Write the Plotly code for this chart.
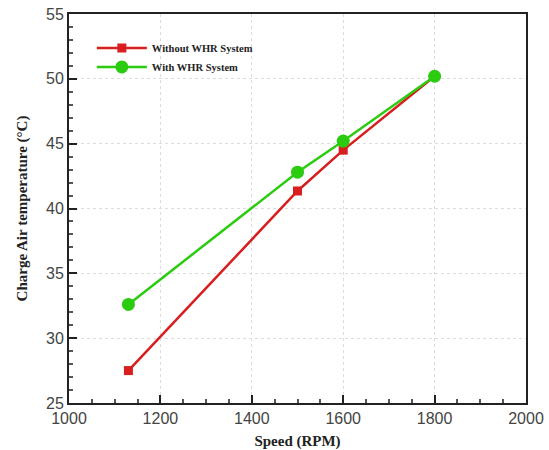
import plotly.graph_objects as go

speed = [1130, 1500, 1600, 1800]
without_whr = [27.5, 41.35, 44.5, 50.2]
with_whr = [32.6, 42.8, 45.2, 50.2]
x_ticks = [1000, 1200, 1400, 1600, 1800, 2000]
y_ticks = [25, 30, 35, 40, 45, 50, 55]

fig = go.Figure()
fig.add_trace(go.Scatter(x=speed, y=without_whr, mode="lines+markers",
                         name="Without WHR System",
                         line=dict(color="#d81e1e", width=2.5),
                         marker=dict(symbol="square", size=9, color="#d81e1e")))
fig.add_trace(go.Scatter(x=speed, y=with_whr, mode="lines+markers",
                         name="With WHR System",
                         line=dict(color="#2bcc10", width=2.5),
                         marker=dict(symbol="circle", size=13, color="#2bcc10")))

axis_common = dict(
    showline=True, linecolor="#222", linewidth=2, mirror=True,
    ticks="inside", ticklen=8, tickwidth=2, tickcolor="#222",
    showgrid=True, gridcolor="#dcdcdc", griddash="dot", gridwidth=1,
    zeroline=False, automargin=False,
    tickfont=dict(family="Liberation Sans, Arial", size=16, color="#444"),
)

fig.update_xaxes(range=[1000, 2000], tickvals=x_ticks,
                 minor=dict(dtick=50, ticks="inside", ticklen=4, tickcolor="#555", showgrid=False),
                 title=dict(text="<b>Speed (RPM)</b>",
                            font=dict(family="Liberation Serif, Times New Roman", size=15, color="#222")),
                 **axis_common)
fig.update_yaxes(range=[25, 55], tickvals=y_ticks,
                 minor=dict(dtick=1, ticks="inside", ticklen=4, tickcolor="#555", showgrid=False),
                 title=dict(text="<b>Charge Air temperature (°C)</b>",
                            font=dict(family="Liberation Serif, Times New Roman", size=15, color="#222")),
                 **axis_common)

fig.update_layout(
    width=549, height=450,
    margin=dict(l=69, r=23, t=14, b=47),
    plot_bgcolor="white", paper_bgcolor="white",
    legend=dict(x=0.05, y=0.95, xanchor="left", yanchor="top",
                bgcolor="rgba(0,0,0,0)",
                font=dict(family="Liberation Serif, Times New Roman", size=10.5, color="#222", weight="bold"),
                tracegroupgap=0, itemwidth=50),
    showlegend=True,
)

fig.write_html("out.html")
